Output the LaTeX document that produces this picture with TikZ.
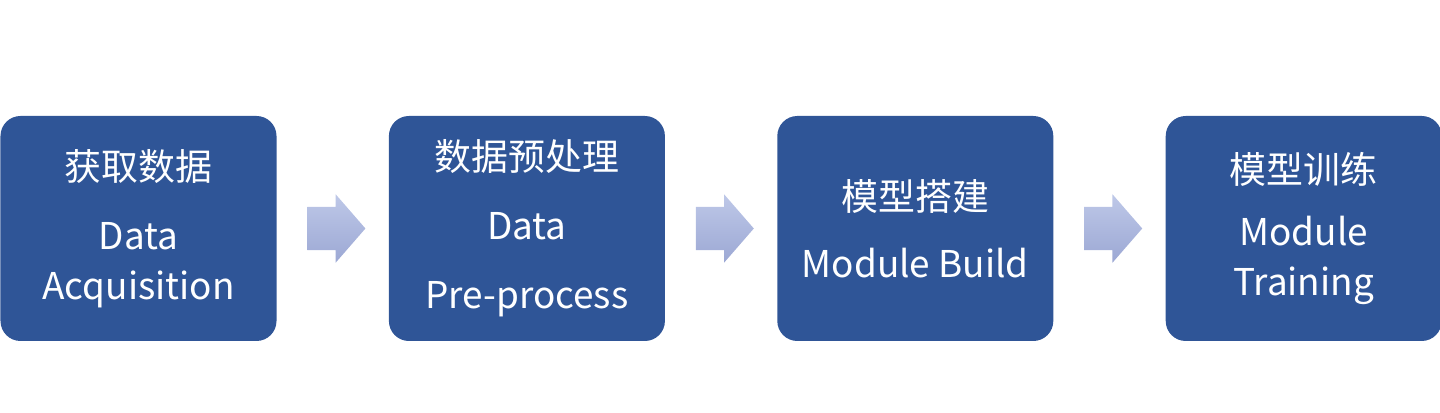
\documentclass[tikz,border=0pt]{standalone}
\usepackage{fontspec}
\newfontfamily\cjk{Noto Sans CJK SC}
\usepackage{xcolor}
\usepackage{tikz}
\usetikzlibrary{shapes.arrows, positioning, calc}
\definecolor{stageblue}{RGB}{47,85,151}
\definecolor{flowtop}{RGB}{190,200,232}
\definecolor{flowbottom}{RGB}{156,168,212}
\tikzstyle{stage} = [rectangle, fill=stageblue, text=white, align=center,
                     minimum width=2.76cm, minimum height=2.25cm, inner sep=0pt,
                     rounded corners=0.2cm, font=\cjk\fontsize{10.5pt}{14.2pt}\selectfont]
\tikzstyle{flow}  = [single arrow, draw=none, top color=flowtop, bottom color=flowbottom,
                     minimum height=0.58cm, inner sep=0pt, anchor=tail,
                     single arrow head extend=0.125cm, single arrow tip angle=98]
\newcommand{\shaft}{\rule{0pt}{0.42cm}}

\begin{document}
\begin{tikzpicture}[node distance=1.11cm]
  \useasboundingbox (0,0) rectangle (14.4,4.13);

  % Stages
  \node[stage] (acq) at (1.385,1.845) {获取数据\\[5.4pt]Data\\Acquisition};
  \node[stage, right=of acq] (pre) {数据预处理\\[5.4pt]Data\\[5.4pt]Pre-process};
  \node[stage, right=of pre] (build) {模型搭建\\[4.8pt]Module Build};
  \node[stage, right=of build] (train) {模型训练\\[3.4pt]Module\\Training};

  % Arrows between stages
  \node[flow] (f1) at ($(acq.east)!0.5!(pre.west)-(0.26,0)$) {\shaft};
  \node[flow] (f2) at ($(pre.east)!0.5!(build.west)-(0.26,0)$) {\shaft};
  \node[flow] (f3) at ($(build.east)!0.5!(train.west)-(0.26,0)$) {\shaft};
\end{tikzpicture}
\end{document}
